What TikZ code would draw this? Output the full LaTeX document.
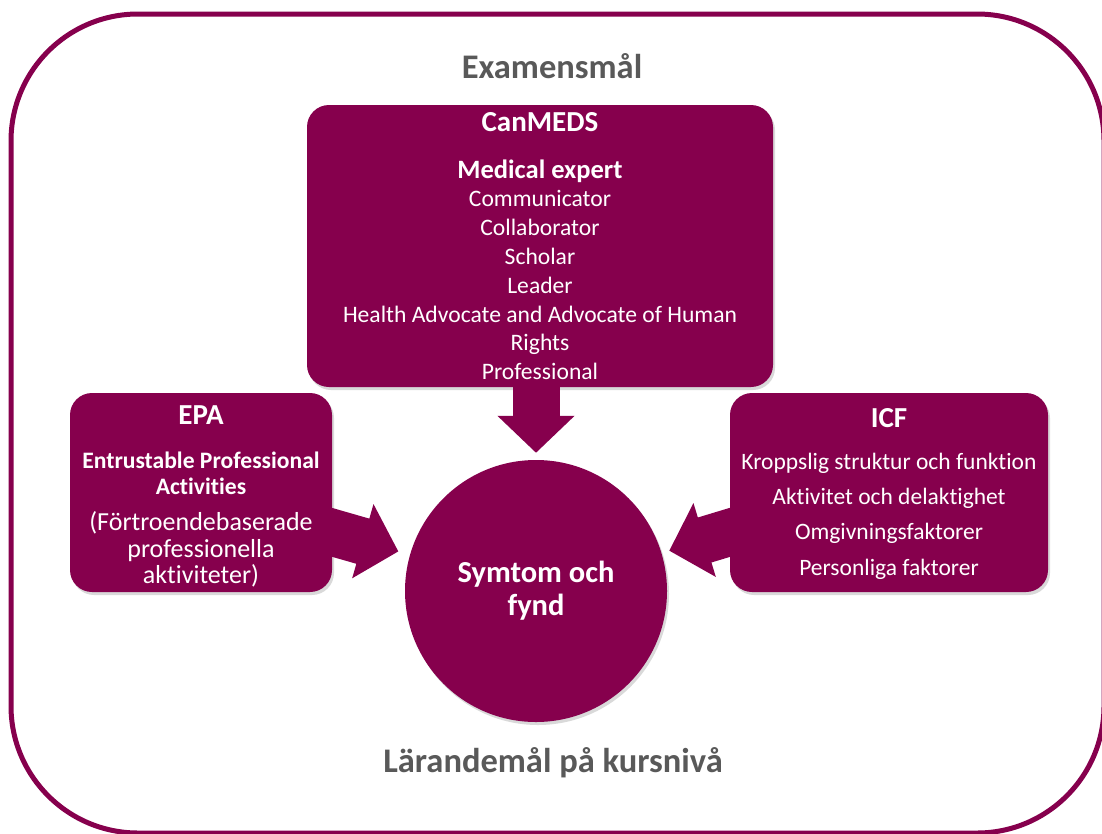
\documentclass[tikz,border=0pt]{standalone}
\usepackage{fontspec}
\setmainfont{Carlito}[Ligatures=NoCommon]
\usetikzlibrary{arrows.meta,calc,shadows}
\definecolor{plum}{RGB}{134,0,77}
\definecolor{headgrey}{RGB}{89,89,89}
\newcommand{\fs}[2]{\fontsize{#1}{#2}\selectfont}

\begin{document}
\begin{tikzpicture}[x=1pt,y=-1pt,
    box/.style={fill=plum,text=white,rounded corners=22pt,align=center,inner sep=0pt,
      drop shadow={shadow xshift=2pt,shadow yshift=-3pt,opacity=0.3}},
    bigarrow/.style={draw=plum,line width=47pt,-{Triangle[length=37pt,width=75pt]}},
    heading/.style={text=headgrey,font=\fs{34.5}{40}\bfseries}]
  \useasboundingbox (0,0) rectangle (1102,833);
  % outer frame, it runs off the right and bottom edge
  \draw[plum,line width=5pt,rounded corners=127pt] (11,14) rectangle (1104,833);
  \node[heading] (goals) at (552,66) {Examensmål};
  \node[heading] (course) at (553,763) {Lärandemål på kursnivå};

  % frameworks
  \node[box,minimum width=466pt,minimum height=282pt,font=\fs{23.6}{28.8}] (canmeds) at (540,246)
    {{\fs{29}{34}\bfseries CanMEDS}\\[18pt]
     {\fs{26.5}{30}\bfseries Medical expert}\\
     Communicator\\ Collaborator\\ Scholar\\ Leader\\
     Health Advocate and Advocate of Human\\ Rights\\ Professional};
  \node[box,minimum width=262pt,minimum height=199pt,font=\fs{26}{26.5}] (epa) at (201,492.5)
    {\rule{0pt}{27pt}{\fs{29}{34}\bfseries EPA}\\[17pt]
     {\fs{23.6}{26}\bfseries Entrustable Professional}\\
     {\fs{23.6}{26}\bfseries Activities}\\[9.5pt]
     (Förtroendebaserade\\ professionella\\ aktiviteter)};
  \node[box,minimum width=318pt,minimum height=199pt,font=\fs{23.5}{35}] (icf) at (889,492.5)
    {\rule{0pt}{22pt}{\fs{29}{34}\bfseries ICF}\\[7pt]
     Kroppslig struktur och funktion\\ Aktivitet och delaktighet\\
     Omgivningsfaktorer\\[1pt] Personliga faktorer};

  \node[circle,fill=plum,text=white,minimum size=262pt,inner sep=0pt,align=center,
    font=\fs{30.5}{33}\bfseries,drop shadow={shadow xshift=2pt,shadow yshift=-3pt,opacity=0.3}]
    (symptom) at (536,591) {Symtom och\\ fynd};

  % block arrows into the circle
  \coordinate (epaout) at ($(epa.north east)!0.7!(epa.south east)$);
  \coordinate (icfout) at ($(icf.north west)!0.7!(icf.south west)$);
  \draw[bigarrow,shorten >=7pt] (symptom.north |- canmeds.south) -- (symptom.north);
  \draw[bigarrow,shorten <=-12pt,shorten >=12pt] (epaout) -- (symptom);
  \draw[bigarrow,shorten <=-12pt,shorten >=8pt] (icfout) -- (symptom);
\end{tikzpicture}
\end{document}
